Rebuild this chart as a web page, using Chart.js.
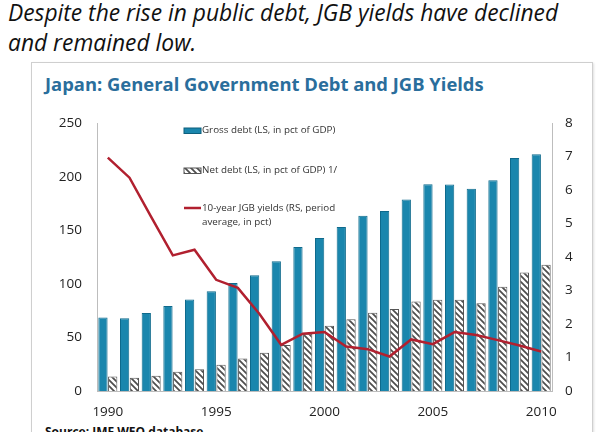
<!DOCTYPE html>
<html>
<head>
<meta charset="utf-8">
<script src="https://cdn.jsdelivr.net/npm/chart.js@4.4.1/dist/chart.umd.min.js"></script>
<style>
  html, body { margin: 0; padding: 0; background: #fff; }
  body { width: 600px; height: 432px; position: relative; overflow: hidden; font-family: "Open Sans", sans-serif; }
  .head { position: absolute; left: 8px; top: -2px; font-style: italic; font-size: 22.8px; line-height: 30px; color: #111; white-space: nowrap; }
  .box { position: absolute; left: 31px; top: 62px; width: 560px; height: 400px; border: 1.5px solid #cfcfcf; box-shadow: 1px 1px 2px rgba(0,0,0,0.12); }
  .title { position: absolute; left: 45px; top: 71px; font-weight: bold; font-size: 18.4px; color: #2a6e9c; white-space: nowrap; }
  .source { position: absolute; left: 45px; top: 423px; font-weight: bold; font-size: 12px; color: #111; white-space: nowrap; }
  #wrap { position: absolute; left: 33px; top: 100px; width: 559px; height: 321px; }
</style>
</head>
<body>
<div class="head">Despite the rise in public debt, JGB yields have declined<br>and remained low.</div>
<div class="box"></div>
<div class="title">Japan: General Government Debt and JGB Yields</div>
<div id="wrap"><canvas id="chart"></canvas></div>
<div class="source">Source: IMF WEO database</div>
<script>
const years = ['1990','1991','1992','1993','1994','1995','1996','1997','1998','1999','2000',
               '2001','2002','2003','2004','2005','2006','2007','2008','2009','2010'];
const grossDebt = [68.5, 67.9, 72.7, 79.4, 85.4, 93, 100.9, 108, 121, 134.3, 142.7,
                   153, 163.5, 168, 178.8, 193, 192.7, 188.8, 196.6, 217.5, 221];
const netDebt = [13.6, 12.4, 14.2, 17.9, 20.3, 24.5, 30.3, 35.6, 43, 53.5, 61,
                 67, 73, 76.6, 83.5, 85.2, 85.2, 81.8, 97.3, 110.6, 117.9];
const jgbYield = [6.97, 6.37, 5.2, 4.05, 4.22, 3.32, 3.08, 2.3, 1.38, 1.71, 1.76,
                  1.33, 1.25, 1.03, 1.54, 1.4, 1.76, 1.67, 1.52, 1.36, 1.18];
const legendLabels = ['Gross debt (LS, in pct of GDP)', 'Net debt (LS, in pct of GDP) 1/',
                      '10-year JGB yields (RS, period', 'average, in pct)'];

const blue = '#1a86ad';
const red = '#b1202f';

function hatch() {
    const c = document.createElement('canvas');
    c.width = 6; c.height = 6;
    const g = c.getContext('2d');
    g.fillStyle = '#fff';
    g.fillRect(0, 0, 6, 6);
    g.strokeStyle = '#4d4d4d';
    g.lineWidth = 1.7;
    g.beginPath();
    g.moveTo(-1, -1); g.lineTo(7, 7);
    g.moveTo(-4, 2); g.lineTo(4, 10);
    g.moveTo(2, -4); g.lineTo(10, 4);
    g.stroke();
    return g.createPattern(c, 'repeat');
}
const stripes = hatch();

// legend sits inside the plot, drawn by hand like the excel original
const boxLegend = {
    id: 'boxLegend',
    afterDraw(chart) {
        const ctx = chart.ctx;
        ctx.save();
        ctx.font = '9.8px "Open Sans", sans-serif';
        ctx.textBaseline = 'middle';
        const x0 = 151, tx = 169;
        ctx.fillStyle = blue;
        ctx.fillRect(x0, 28, 17, 5.5);
        ctx.strokeStyle = '#0d5f7d';
        ctx.lineWidth = 1;
        ctx.strokeRect(x0, 28, 17, 5.5);
        ctx.fillStyle = stripes;
        ctx.fillRect(x0, 68, 17, 5.5);
        ctx.strokeStyle = '#555';
        ctx.strokeRect(x0, 68, 17, 5.5);
        ctx.strokeStyle = red;
        ctx.lineWidth = 2.5;
        ctx.beginPath();
        ctx.moveTo(x0, 108); ctx.lineTo(x0 + 17, 108);
        ctx.stroke();
        ctx.fillStyle = '#333';
        ctx.fillText(legendLabels[0], tx, 30.7, 136);
        ctx.fillText(legendLabels[1], tx, 70.7, 136);
        ctx.fillText(legendLabels[2], tx, 108.3, 136);
        ctx.fillText(legendLabels[3], tx, 122, 136);
        ctx.restore();
    }
};

const tickFont = { family: '"Open Sans", sans-serif', size: 13.5 };

new Chart(document.getElementById('chart'), {
    type: 'bar',
    data: {
        labels: years,
        datasets: [{
            type: 'line',
            label: '10-year JGB yields',
            data: jgbYield,
            yAxisID: 'y1',
            borderColor: red,
            borderWidth: 2.5,
            pointRadius: 0,
            tension: 0,
            order: 0
        }, {
            label: 'Gross debt',
            data: grossDebt,
            yAxisID: 'y',
            backgroundColor: blue,
            borderColor: '#0f6a8c',
            borderWidth: 1,
            categoryPercentage: 0.9,
            barPercentage: 0.95,
            order: 1
        }, {
            label: 'Net debt',
            data: netDebt,
            yAxisID: 'y',
            backgroundColor: stripes,
            borderColor: '#555',
            borderWidth: 1,
            categoryPercentage: 0.9,
            barPercentage: 0.95,
            order: 1
        }]
    },
    options: {
        responsive: true,
        maintainAspectRatio: false,
        animation: false,
        layout: { padding: { top: 14, left: 0, right: 0, bottom: 0 } },
        plugins: { legend: { display: false }, tooltip: { enabled: false } },
        scales: {
            x: {
                grid: { display: false, drawTicks: false },
                border: { display: true, color: '#bdbdbd', width: 1 },
                ticks: {
                    autoSkip: false, maxRotation: 0, padding: 13, color: '#222', font: tickFont,
                    callback: function(v, i) { return (i % 5 === 0) ? years[i] : ''; }
                },
                afterFit: s => { s.height = 30; }
            },
            y: {
                position: 'left',
                min: 0, max: 250,
                grid: { display: false, drawTicks: false },
                border: { display: true, color: '#bdbdbd', width: 1 },
                ticks: { stepSize: 50, padding: 15, color: '#222', font: tickFont },
                afterFit: s => { s.width = 64; }
            },
            y1: {
                position: 'right',
                min: 0, max: 8,
                grid: { display: false, drawTicks: false },
                border: { display: true, color: '#bdbdbd', width: 1 },
                ticks: { stepSize: 1, padding: 13, color: '#222', font: tickFont },
                afterFit: s => { s.width = 40; }
            }
        }
    },
    plugins: [boxLegend]
});
</script>
</body>
</html>
